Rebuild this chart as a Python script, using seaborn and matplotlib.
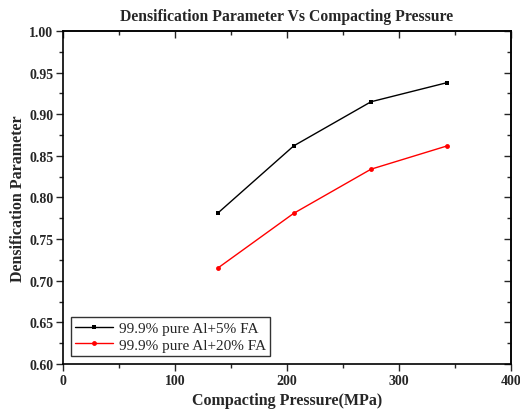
import matplotlib
matplotlib.use("Agg")
import matplotlib.pyplot as plt
import seaborn as sns
import pandas as pd
from matplotlib.ticker import MultipleLocator, FormatStrFormatter

pressure = [138, 206, 275, 343]
fa5 = [0.781, 0.862, 0.915, 0.938]
fa20 = [0.715, 0.781, 0.834, 0.862]
labels = ["99.9% pure Al+5% FA", "99.9% pure Al+20% FA"]

df = pd.DataFrame({
    "x": pressure * 2,
    "y": fa5 + fa20,
    "s": [labels[0]] * 4 + [labels[1]] * 4,
})

sns.set_style("ticks")
plt.rcParams['font.family'] = ['Liberation Serif', 'DejaVu Serif']

fig = plt.figure(figsize=(5.2, 4.1), dpi=100)
ax = fig.add_axes([63/520, 1-365/410, 448/520, 333/410])

sns.lineplot(data=df, x="x", y="y", hue="s", style="s",
             palette=["black", "red"], markers=["s", "o"], dashes=False,
             markersize=3.5, linewidth=1, markeredgewidth=0, ax=ax)

ax.set_xlim(0, 400)
ax.set_ylim(0.60, 1.00)
ax.xaxis.set_major_locator(MultipleLocator(100))
ax.xaxis.set_minor_locator(MultipleLocator(50))
ax.yaxis.set_major_locator(MultipleLocator(0.05))
ax.yaxis.set_minor_locator(MultipleLocator(0.025))
ax.yaxis.set_major_formatter(FormatStrFormatter('%.2f'))
for s in ax.spines.values():
    s.set_visible(True)
    s.set_linewidth(1.2)
    s.set_color("black")
ax.tick_params(which="major", length=5, width=1, direction="out", labelsize=10, pad=2)
ax.tick_params(which="minor", length=3, width=1, direction="out")
for lab in ax.get_xticklabels() + ax.get_yticklabels():
    lab.set_fontweight("bold")

# mirrored inward ticks on top and right
top = ax.secondary_xaxis("top")
top.xaxis.set_major_locator(MultipleLocator(100))
top.xaxis.set_minor_locator(MultipleLocator(50))
top.tick_params(which="major", direction="in", length=5, width=1, labeltop=False)
top.tick_params(which="minor", direction="in", length=3, width=1)
top.spines["top"].set_linewidth(1.2)
right = ax.secondary_yaxis("right")
right.yaxis.set_major_locator(MultipleLocator(0.05))
right.yaxis.set_minor_locator(MultipleLocator(0.025))
right.tick_params(which="major", direction="in", length=5, width=1, labelright=False)
right.tick_params(which="minor", direction="in", length=3, width=1)
right.spines["right"].set_linewidth(1.2)

ax.set_xlabel("Compacting Pressure(MPa)", fontsize=11.5, fontweight="bold")
ax.set_ylabel("Densification Parameter", fontsize=11.5, fontweight="bold")
ax.xaxis.set_label_coords(0.5, -0.085)
ax.yaxis.set_label_coords(-0.082, 0.5)
ax.set_title("Densification Parameter Vs Compacting Pressure", fontsize=11.3, fontweight="bold", pad=8)

leg = ax.legend(loc="lower left", fontsize=11, frameon=True, fancybox=False,
                edgecolor="black", borderaxespad=0.5, handlelength=2.5,
                handletextpad=0.35, borderpad=0.3, labelspacing=0.2)
leg.get_frame().set_linewidth(1)
for h in leg.legend_handles:
    h.set_markersize(3.5)

fig.savefig("out.png", dpi=100)
